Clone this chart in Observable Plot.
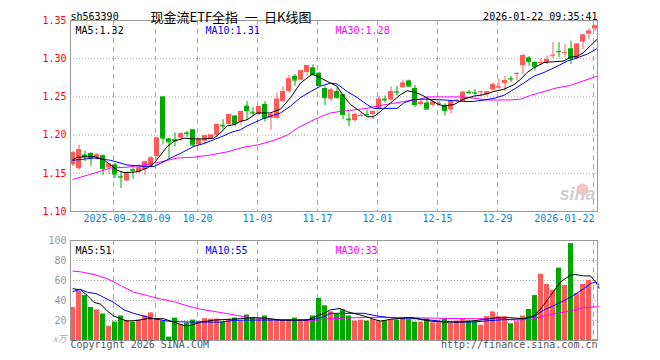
<!DOCTYPE html>
<html><head><meta charset="utf-8">
<script src="https://cdn.jsdelivr.net/npm/d3@7"></script>
<script src="https://cdn.jsdelivr.net/npm/@observablehq/plot@0.6"></script>
<style>
html,body{margin:0;padding:0;background:#fff;}
#wrap{position:relative;width:660px;height:360px;overflow:hidden;background:#fff;}
#price{position:absolute;left:0;top:0;}
#vol{position:absolute;left:0;top:235px;}
</style></head><body><div id="wrap"><div id="price"></div><div id="vol"></div></div>
<script>
const code = "sh563390";
const title = "现金流ETF全指\u2002一\u2002日K线图";
const stamp = "2026-01-22 09:35:41";
const tickIndex = [7,14,21,31,41,51,61,71,87];
const tickLabels = ["2025-09-22","10-09","10-20","11-03","11-17","12-01","12-15","12-29","2026-01-22"];
const priceTicks = [1.10,1.15,1.20,1.25,1.30,1.35];
const volTicks = [20,40,60,80,100];
const maPriceLabels = ["MA5:1.32","MA10:1.31","MA30:1.28"];
const maVolLabels = ["MA5:51","MA10:55","MA30:33"];

const open = [1.161,1.156,1.174,1.176,1.170,1.173,1.157,1.161,1.146,1.140,
1.155,1.151,1.155,1.159,1.172,1.250,1.195,1.194,1.196,1.2027,
1.207,1.187,1.192,1.195,1.200,1.213,1.214,1.225,1.217,1.238,
1.230,1.227,1.240,1.222,1.222,1.244,1.257,1.277,1.272,1.282,
1.288,1.281,1.261,1.247,1.257,1.253,1.221,1.219,1.225,1.227,
1.227,1.234,1.247,1.246,1.2567,1.262,1.271,1.261,1.240,1.242,
1.239,1.241,1.239,1.233,1.245,1.244,1.2562,1.2555,1.2562,1.253,
1.259,1.262,1.2675,1.274,1.2793,1.291,1.301,1.295,1.2943,1.295,
1.304,1.3095,1.3075,1.313,1.300,1.322,1.332,1.339];
const close = [1.177,1.181,1.172,1.170,1.174,1.156,1.162,1.149,1.145,1.150,
1.154,1.157,1.165,1.170,1.196,1.196,1.191,1.193,1.202,1.202,
1.187,1.194,1.199,1.200,1.214,1.212,1.227,1.215,1.231,1.232,
1.229,1.237,1.222,1.227,1.247,1.257,1.274,1.272,1.284,1.291,
1.279,1.265,1.249,1.259,1.249,1.227,1.220,1.227,1.2256,1.2265,
1.231,1.247,1.246,1.257,1.2562,1.268,1.264,1.240,1.243,1.234,
1.243,1.2415,1.232,1.244,1.2455,1.256,1.2558,1.2550,1.2567,1.2565,
1.266,1.263,1.2714,1.2734,1.2807,1.304,1.296,1.290,1.2950,1.299,
1.3045,1.3090,1.3080,1.300,1.319,1.331,1.336,1.343];
const high = [1.179,1.187,1.179,1.177,1.176,1.174,1.163,1.163,1.152,1.152,
1.157,1.161,1.166,1.172,1.197,1.250,1.196,1.203,1.203,1.205,
1.207,1.196,1.200,1.200,1.214,1.220,1.227,1.226,1.231,1.244,
1.236,1.238,1.244,1.229,1.255,1.264,1.278,1.279,1.285,1.291,
1.292,1.282,1.263,1.261,1.262,1.253,1.229,1.229,1.230,1.232,
1.231,1.251,1.251,1.263,1.264,1.272,1.272,1.265,1.246,1.249,
1.244,1.244,1.241,1.246,1.2464,1.257,1.2587,1.2596,1.2574,1.2574,
1.268,1.2736,1.277,1.2771,1.2815,1.306,1.303,1.296,1.300,1.3035,
1.321,1.321,1.3188,1.323,1.320,1.332,1.339,1.344];
const low = [1.159,1.154,1.165,1.159,1.168,1.147,1.148,1.143,1.130,1.139,
1.142,1.150,1.147,1.157,1.168,1.187,1.168,1.185,1.192,1.197,
1.184,1.186,1.187,1.194,1.196,1.207,1.211,1.211,1.212,1.220,
1.225,1.225,1.217,1.206,1.221,1.243,1.255,1.264,1.271,1.277,
1.277,1.264,1.239,1.244,1.247,1.220,1.211,1.217,1.224,1.225,
1.220,1.233,1.242,1.244,1.251,1.261,1.263,1.236,1.237,1.233,
1.237,1.237,1.225,1.228,1.2429,1.243,1.2530,1.2517,1.2500,1.250,
1.257,1.2596,1.257,1.2684,1.2706,1.279,1.290,1.284,1.2903,1.2925,
1.300,1.3013,1.3013,1.2925,1.299,1.312,1.325,1.336];
const volume = [33.0,49.0,44.9,33.0,30.6,26.5,14.3,18.4,24.5,20.1,
18.4,20.4,24.5,27.6,21.8,19.4,3.4,22.4,16.0,17.3,
20.4,18.7,21.8,21.4,21.4,18.4,21.1,22.4,19.0,25.5,
22.8,21.1,24.5,20.7,20.7,20.7,20.7,22.4,20.7,20.7,
24.5,42.2,34.7,28.6,26.5,30.6,24.5,19.4,20.4,19.4,
21.1,19.0,19.4,20.4,20.4,23.1,20.7,18.4,18.4,21.4,
17.7,17.7,21.4,17.0,19.4,21.8,19.4,18.4,15.3,23.8,
28.6,23.8,23.8,16.7,18.7,24.5,31.0,44.9,66.3,56.1,
50.3,72.4,55.1,96.9,46.9,56.1,60.2,0.8];

// moving averages: [day index, value]
const ma5Price = [[0,1.168],[0.7,1.171],[3.5,1.172],[5.1,1.168],[6.25,1.161],[7.4,1.154],[8.5,1.151],[9,1.151],[10.7,1.152],[12.4,1.157],[13.5,1.163],[14.6,1.174],[15.7,1.185],[16.8,1.192],[18.5,1.196],[20.1,1.195],[21.8,1.195],[23.5,1.196],[24.6,1.203],[25.7,1.212],[27,1.214],[27.9,1.218],[29,1.220],[30.7,1.229],[32.9,1.229],[34.6,1.234],[36.25,1.249],[37.9,1.268],[39.9,1.280],[41.25,1.275],[42.9,1.268],[44,1.264],[45.1,1.251],[46.25,1.240],[47.9,1.231],[49,1.224],[50.1,1.224],[51.25,1.231],[52.9,1.242],[54.6,1.253],[55.7,1.258],[57,1.256],[58,1.253],[59.6,1.246],[60.7,1.241],[61.8,1.238],[63.5,1.240],[65.1,1.247],[66.8,1.251],[68.5,1.253],[70.1,1.257],[71.8,1.260],[73.5,1.266],[74.6,1.273],[75.7,1.282],[76.8,1.288],[78.5,1.295],[80.1,1.296],[81.8,1.297],[82.9,1.302],[84,1.303],[85.1,1.308],[86.25,1.317],[87.3,1.325]];
const ma10Price = [[0,1.167],[3.5,1.170],[6.25,1.167],[9,1.161],[11.8,1.159],[13.5,1.159],[14.6,1.163],[16.25,1.170],[17.9,1.176],[20.1,1.185],[21.8,1.189],[23.5,1.194],[25.1,1.199],[26.5,1.204],[27.9,1.207],[29,1.212],[31.8,1.222],[34.6,1.229],[36.25,1.238],[37.9,1.249],[39.6,1.257],[41.25,1.264],[42.9,1.268],[44,1.267],[45.7,1.257],[47.4,1.249],[49,1.240],[50.1,1.235],[51.8,1.235],[54,1.235],[55.1,1.242],[56.5,1.246],[57.9,1.247],[59,1.247],[61.8,1.246],[63.5,1.245],[65.1,1.244],[66.8,1.244],[68.5,1.246],[70.1,1.248],[71.8,1.252],[73.5,1.260],[75.1,1.268],[76.8,1.277],[78.5,1.282],[80.7,1.290],[82.4,1.297],[84,1.301],[85.7,1.306],[87.3,1.313]];
const ma30Price = [[0,1.142],[3.5,1.150],[6.25,1.157],[9,1.158],[11.8,1.161],[14.6,1.165],[17.4,1.170],[20.1,1.171],[22.9,1.174],[25.7,1.178],[27.9,1.183],[29,1.185],[30.7,1.187],[33.5,1.193],[35.7,1.200],[37.4,1.209],[39.6,1.218],[41.25,1.224],[42.9,1.229],[44.6,1.231],[46.8,1.233],[49,1.235],[50.7,1.238],[52.9,1.241],[55.1,1.244],[57.9,1.247],[59,1.250],[61.8,1.250],[64.6,1.250],[67.4,1.248],[68.5,1.246],[70.7,1.246],[72.9,1.246],[74.6,1.247],[76.25,1.252],[78.5,1.257],[80.7,1.262],[82.9,1.265],[85.1,1.271],[87.3,1.277]];
const ma5Vol = [[0,51.7],[1.25,50.7],[2.4,44.9],[3.5,38.1],[4.6,36.4],[5.7,29.6],[6.8,24.5],[7.9,21.8],[9,19.4],[10.7,20.1],[12.4,21.8],[14,21.8],[15.1,21.8],[16.8,18.4],[18.5,15.0],[19.6,15.0],[21.25,18.4],[23.5,20.4],[25.7,21.1],[27.9,21.8],[30.1,22.8],[32.4,22.1],[34.6,20.4],[36.8,20.4],[39,20.4],[40.7,24.5],[41.8,27.2],[42.9,30.6],[44.5,32.0],[45.8,28.6],[47.6,25.9],[48.5,24.5],[50.2,21.1],[51.25,19.4],[52.9,21.1],[54,21.8],[56.25,23.1],[57.9,21.1],[59.6,19.4],[61.8,18.4],[64,18.4],[66.25,19.4],[68.6,21.1],[70.7,22.8],[72.9,22.8],[75.1,21.8],[76.8,24.5],[77.9,31.3],[79.6,44.9],[81.25,58.5],[82.9,65.3],[83.75,66.0],[85.1,64.6],[86.25,64.6],[87.1,58.5],[87.7,52.4]];
const ma10Vol = [[0,49.0],[1.25,51.0],[2.4,48.3],[4,46.6],[5.1,43.2],[6.8,38.1],[8.5,30.6],[10.1,27.2],[11.8,24.5],[13.5,21.8],[15.7,19.4],[17.9,18.7],[20.1,18.4],[22.4,18.4],[24.6,18.4],[26.8,20.1],[29,20.4],[31.25,20.4],[33.5,20.4],[35.7,20.4],[37.9,20.4],[40.1,21.1],[41.8,23.8],[42.9,27.2],[45.1,27.2],[48.5,27.2],[50.7,24.5],[52.9,22.8],[55.1,21.8],[57.4,21.8],[59.6,20.4],[61.8,19.0],[64,18.4],[66.25,18.4],[68.5,19.4],[70.7,20.4],[72.9,21.1],[75.1,21.8],[76.8,23.8],[78.5,30.6],[80.7,36.4],[82.9,43.2],[85.1,51.7],[86.25,56.8],[87.1,58.5],[87.7,55.8]];
const ma30Vol = [[0,69.4],[1.25,68.7],[3.5,66.0],[5.7,61.9],[7.9,55.1],[10.1,48.3],[12.4,44.9],[14.6,41.5],[16.8,38.8],[19,34.7],[21.25,31.3],[24,28.6],[26.25,26.2],[28.5,23.8],[31.25,22.1],[33.5,21.1],[36.8,20.4],[40.1,20.1],[42.9,21.8],[48.5,23.1],[54,23.1],[59.6,22.4],[65.1,21.8],[70.7,21.8],[74,20.4],[76.25,21.1],[78.5,24.5],[80.7,27.2],[82.9,29.6],[85.1,33.0],[87.7,33.7]];

const RED = "#ff5a5a", GREEN = "#00a800";
const MA5C = "#000000", MA10C = "#0000ff", MA30C = "#ff00ff";
const MONO = "DejaVu Sans Mono";
const half = 2.5/6;
const xDomain = [-half, 87 + half];

const candles = open.map((o,i)=>({i, open:o, close:close[i], high:high[i], low:low[i], vol:volume[i]}));
const up = candles.filter(d=>d.close>=d.open);
const dn = candles.filter(d=>d.close<d.open);
const ticks = tickIndex.map((t,k)=>({x:t-0.25, label:tickLabels[k]}));
const maLabelX = [0, 130, 260];

function maLine(arr, color){ return Plot.line(arr, {x:d=>d[0], y:d=>d[1], stroke:color, strokeWidth:1}); }
function labelMarks(labels){
  return labels.map((t,k)=>Plot.text([t], {frameAnchor:"top-left", dx:5+maLabelX[k], dy:6, textAnchor:"start",
    fill:[MA5C,MA10C,MA30C][k], fontSize:10, fontFamily:MONO}));
}

const priceChart = Plot.plot({
  width:660, height:235, marginLeft:70, marginRight:63, marginTop:20, marginBottom:24,
  x:{domain:xDomain, axis:null},
  y:{domain:[1.10,1.35], axis:null},
  style:{fontFamily:MONO, fontSize:"10px", background:"transparent", overflow:"visible"},
  marks:[
    Plot.ruleY([1.15,1.20,1.25,1.30], {stroke:"#aaa", strokeDasharray:"1,2"}),
    Plot.ruleX(ticks, {x:"x", stroke:"#aaa", strokeDasharray:"5,4"}),
    Plot.ruleX(up, {x:"i", y1:"low", y2:"high", stroke:RED}),
    Plot.ruleX(dn, {x:"i", y1:"low", y2:"high", stroke:GREEN}),
    Plot.rect(up, {x1:d=>d.i-half, x2:d=>d.i+half, y1:"open", y2:"close", fill:RED}),
    Plot.rect(dn, {x1:d=>d.i-half, x2:d=>d.i+half, y1:"open", y2:"close", fill:GREEN}),
    Plot.ruleY(up, {x1:d=>d.i-half, x2:d=>d.i+half, y:"close", stroke:RED}),
    Plot.ruleY(dn, {x1:d=>d.i-half, x2:d=>d.i+half, y:"close", stroke:GREEN}),
    maLine(ma30Price, MA30C), maLine(ma10Price, MA10C), maLine(ma5Price, MA5C),
    Plot.frame({stroke:"#999"}),
    Plot.axisY(priceTicks, {tickSize:0, tickPadding:4, tickFormat:d=>d.toFixed(2), color:"#ff0000", fontSize:10, label:null}),
    Plot.text(ticks.slice(0,-1), {x:"x", text:"label", frameAnchor:"bottom", dy:10, fill:"#0a84cc", fontSize:10}),
    Plot.text(ticks.slice(-1), {x:"x", text:"label", frameAnchor:"bottom", dy:10, dx:1, textAnchor:"end", fill:"#0a84cc", fontSize:10}),
    Plot.text([code], {frameAnchor:"top-left", dy:-8, textAnchor:"start", fill:"#000", fontSize:10}),
    Plot.text([title], {frameAnchor:"top-left", dx:80, dy:-8, textAnchor:"start", fill:"#000", fontSize:13, fontFamily:"Noto Sans CJK SC"}),
    Plot.text([stamp], {frameAnchor:"top-right", dy:-8, textAnchor:"end", fill:"#000", fontSize:10}),
    ...labelMarks(maPriceLabels),
    Plot.dot([0], {frameAnchor:"bottom-right", dx:-15, dy:-22, r:6, fill:"#f7c4c4", stroke:"none"}),
    Plot.text(["sina"], {frameAnchor:"bottom-right", dx:-2, dy:-12, textAnchor:"end", fill:"#cfcfcf", fontSize:18, fontWeight:"bold", fontStyle:"italic", fontFamily:"Liberation Sans"})
  ]
});
document.getElementById("price").appendChild(priceChart);

const volChart = Plot.plot({
  width:660, height:125, marginLeft:70, marginRight:63, marginTop:5, marginBottom:20,
  x:{domain:xDomain, axis:null},
  y:{domain:[0,100], axis:null},
  style:{fontFamily:MONO, fontSize:"10px", background:"transparent", overflow:"visible"},
  marks:[
    Plot.ruleY([20,40,60,80], {stroke:"#aaa", strokeDasharray:"1,2"}),
    Plot.ruleX(ticks, {x:"x", stroke:"#aaa", strokeDasharray:"5,4"}),
    Plot.rectY(up, {x1:d=>d.i-half, x2:d=>d.i+half, y:"vol", fill:RED}),
    Plot.rectY(dn, {x1:d=>d.i-half, x2:d=>d.i+half, y:"vol", fill:GREEN}),
    maLine(ma30Vol, MA30C), maLine(ma10Vol, MA10C), maLine(ma5Vol, MA5C),
    Plot.frame({stroke:"#999"}),
    Plot.axisY(volTicks, {tickSize:0, tickPadding:4, color:"#999", fontSize:10, label:null}),
    ...labelMarks(maVolLabels),
    Plot.text(["x万"], {frameAnchor:"bottom-left", dx:-4, dy:1, textAnchor:"end", fill:"#aaa", fontSize:9, fontStyle:"italic", fontFamily:"Noto Sans CJK SC"}),
    Plot.text(["Copyright 2026 SINA.COM"], {frameAnchor:"bottom-left", dy:7, textAnchor:"start", fill:"#555", fontSize:10}),
    Plot.text(["http://finance.sina.com.cn"], {frameAnchor:"bottom-right", dy:7, textAnchor:"end", fill:"#555", fontSize:10})
  ]
});
document.getElementById("vol").appendChild(volChart);
</script>
</body></html>
